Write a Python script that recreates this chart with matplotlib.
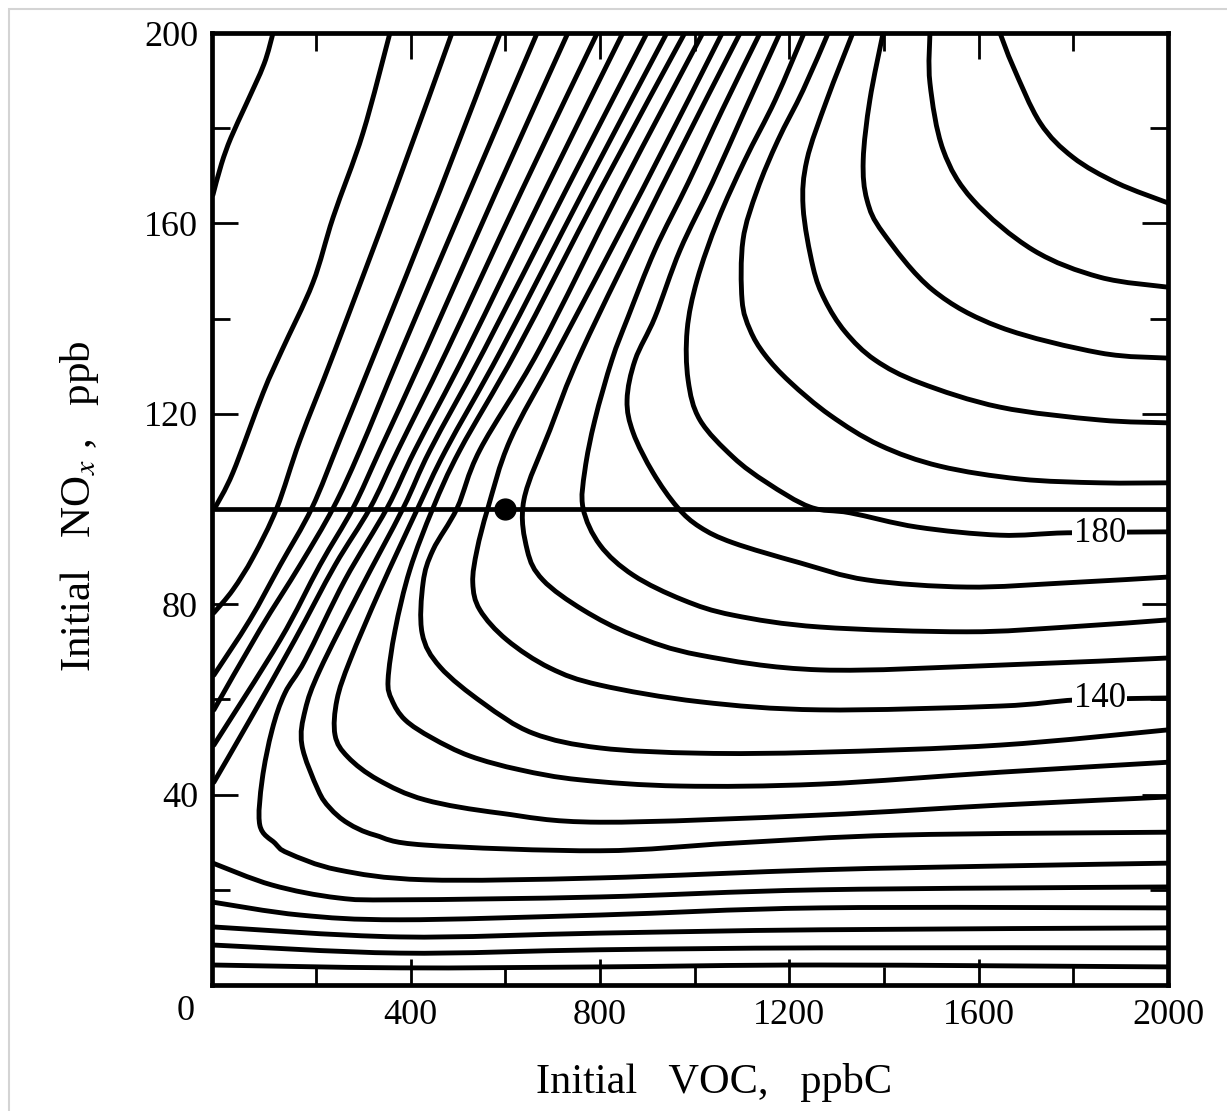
import matplotlib.pyplot as plt
from matplotlib.patches import Rectangle, PathPatch
from matplotlib.path import Path

plt.rcParams['font.family'] = ['Liberation Serif', 'DejaVu Serif']
plt.rcParams['mathtext.fontset'] = 'stix'

# ozone isopleths (ppb) as (VOC ppbC, NOx ppb)
iso_20 = [(109, 200), (90, 193.5), (52, 185), (20, 178), (0, 172.5), (-18, 166)]
iso_30 = [(356, 200), (299, 179), (236, 161.3), (193, 147.5), (128, 133.4),
          (88, 124.4), (24, 107.6), (-14, 100.2)]
iso_40 = [(487, 200), (367, 167), (240, 133.4), (166, 114.5), (117, 100.2),
          (67, 89.9), (24, 83), (-16, 78.2)]
iso_50 = [(589, 200), (462, 167), (327, 133.4), (250, 114.5), (191, 100.2),
          (124, 88.2), (60, 76.7), (-16, 65.1)]
iso_60 = [(667, 200), (525, 167), (381, 133.4), (293, 112.4), (236, 100.2),
          (166, 88.2), (81, 74.6), (-16, 57.8)]
iso_70 = [(732, 200), (582, 167), (432, 133.4), (335, 112.4), (278, 100.2),
          (208, 88.2), (124, 72.5), (-16, 50.4)]
iso_80 = [(794, 200), (635, 167), (477, 133.4), (373, 112.4), (314, 100.2),
          (240, 88.2), (155, 72.5), (60, 55.7), (-16, 42.6)]
iso_90 = [(848, 200), (684, 167), (519, 133.4), (409, 112.4), (350, 100.2),
          (261, 85.1), (177, 68.3), (134, 61.3), (107, 53.6), (86, 43.1),
          (81, 33.6), (113, 29.8), (141, 27.7), (246, 24.2), (430, 22.1),
          (800, 22.5), (1265, 24.2), (1645, 25), (2000, 25.6)]
iso_100 = [(899, 200), (728, 167), (555, 133.4), (441, 112.4), (384, 100.2),
           (293, 83), (208, 66.2), (177, 57.8), (170, 50.4), (204, 41),
           (229, 37.2), (267, 34), (324, 31.5), (430, 29.4), (800, 28.2),
           (1081, 29.8), (1434, 31.5), (2000, 32.1)]
iso_110 = [(941, 200), (766, 167), (591, 133.4), (474, 112.4), (415, 100.2),
           (335, 83), (272, 68.3), (244, 59.9), (240, 52.5), (267, 47.9),
           (331, 43.1), (430, 38.9), (589, 36.1), (800, 34.2), (1265, 35.7),
           (1645, 37.8), (2000, 39.5)]
iso_120 = [(979, 200), (800, 167), (624, 133.4), (504, 112.4), (447, 100.2),
           (398, 87.2), (367, 74.6), (352, 64.1), (360, 59.9), (388, 55.7),
           (445, 51.9), (525, 48.1), (631, 45.2), (758, 43.1), (969, 41.8),
           (1265, 42.2), (1645, 44.7), (2000, 46.8)]
iso_130 = [(1017, 200), (842, 167), (671, 133.4), (546, 112.4), (498, 100.2),
           (447, 91.4), (426, 84.5), (424, 73.9), (462, 66.8), (553, 59.2),
           (658, 52.9), (800, 49.8), (1011, 48.7), (1265, 48.9), (1645, 50.4),
           (2000, 53.6)]
iso_140 = [(1058, 200), (889, 167), (711, 133.4), (610, 114.5), (563, 100.2),
           (540, 91.4), (531, 84.5), (546, 78.8), (603, 72.5), (694, 66.6),
           (800, 63), (1011, 59.5), (1265, 57.8), (1645, 58.6), (1808, 59.9),
           (2000, 60.3)]
iso_150 = [(1096, 200), (927, 167), (762, 133.4), (694, 116.6), (639, 101.9),
           (646, 91.4), (679, 85.1), (764, 78.8), (870, 73.5), (1011, 69.3),
           (1265, 66.2), (1645, 67.2), (2000, 68.7)]
iso_160 = [(1138, 200), (1058, 183.8), (986, 168.5), (916, 154.4), (859, 140.3),
           (825, 131.3), (789, 118.7), (768, 108.2), (764, 100.2), (800, 92.4),
           (870, 86.1), (975, 80.9), (1081, 77.7), (1265, 75.2), (1575, 74.2),
           (1787, 75.2), (2000, 76.7)]
iso_170 = [(1180, 200), (1106, 183.8), (1037, 168.5), (969, 154.4), (916, 140.3),
           (874, 131.3), (857, 122.9), (870, 116), (912, 107.6), (963, 100.4),
           (1011, 96.2), (1081, 92.9), (1222, 88.7), (1364, 85.1), (1575, 83.6),
           (1787, 84.5), (2000, 85.7)]
iso_180 = [(1231, 200), (1170, 185.9), (1106, 173.3), (1049, 160.7), (1005, 148.1),
           (984, 137.6), (986, 127.1), (1011, 118.7), (1081, 110.9), (1153, 105.5),
           (1244, 100.4), (1328, 99.2), (1470, 96.2), (1645, 94.5), (1787, 95),
           (2000, 95.2)]
iso_190 = [(1282, 200), (1229, 188), (1176, 177.5), (1132, 167), (1102, 156.5),
           (1100, 143.9), (1117, 137.6), (1148, 132.4), (1201, 126.7), (1286, 119.7),
           (1391, 113.4), (1518, 109), (1687, 106.3), (1856, 105.5), (2000, 105.5)]
iso_200 = [(1334, 200), (1279, 185.9), (1237, 173.3), (1229, 163.4), (1250, 150.8),
           (1275, 143.9), (1318, 137.2), (1381, 131.3), (1476, 126.5), (1645, 121.4),
           (1856, 118.7), (2000, 118.1)]
iso_210 = [(1398, 200), (1370, 185.9), (1356, 173.3), (1364, 164.9), (1398, 158),
           (1503, 146), (1645, 138.2), (1856, 132.8), (2000, 131.7)]
iso_220 = [(1497, 200), (1497, 189.5), (1525, 175.4), (1588, 164.9), (1715, 154.4),
           (1856, 148.7), (2000, 146.6)]
iso_230 = [(1645, 200), (1673, 192.9), (1730, 181.1), (1799, 173.9), (1892, 168.5),
           (2000, 164.3)]

# lower branches of the 40-80 isopleths along the bottom
low_80 = [(-18, 25.6), (107, 21), (246, 18.3), (377, 17.9), (800, 18.5),
          (1265, 20), (2000, 20.6)]
low_70 = [(-18, 17.4), (166, 14.7), (377, 13.7), (800, 14.7), (1265, 16.2),
          (2000, 16.2)]
low_60 = [(-18, 12.2), (377, 10.1), (800, 10.9), (1265, 11.6), (2000, 12)]
low_50 = [(-18, 8.4), (377, 6.7), (800, 7.4), (1265, 7.8), (2000, 7.8)]
low_40 = [(-18, 4.2), (377, 3.6), (800, 3.8), (1265, 4.2), (2000, 3.8)]

# labelled isopleths: (text, VOC, NOx)
contour_labels = [('180', 1856, 94.8), ('140', 1856, 60.1)]

nox_line = 100          # ppb, horizontal reference line
base_case = (600, 100)  # marked point

x_major = [400, 800, 1200, 1600, 2000]
x_minor = [200, 600, 1000, 1400, 1800]
y_major = [40, 80, 120, 160, 200]
y_minor = [20, 60, 100, 140, 180]

curves = [iso_20, iso_30, iso_40, iso_50, iso_60, iso_70, iso_80, iso_90,
          iso_100, iso_110, iso_120, iso_130, iso_140, iso_150, iso_160,
          iso_170, iso_180, iso_190, iso_200, iso_210, iso_220, iso_230,
          low_80, low_70, low_60, low_50, low_40]


def smooth_path(pts):
    # cubic bezier through the traced points (catmull-rom tangents)
    verts = [pts[0]]
    codes = [Path.MOVETO]
    n = len(pts)
    for i in range(n - 1):
        p0 = pts[max(i - 1, 0)]
        p1 = pts[i]
        p2 = pts[i + 1]
        p3 = pts[min(i + 2, n - 1)]
        c1 = (p1[0] + (p2[0] - p0[0]) / 6, p1[1] + (p2[1] - p0[1]) / 6)
        c2 = (p2[0] - (p3[0] - p1[0]) / 6, p2[1] - (p3[1] - p1[1]) / 6)
        verts += [c1, c2, p2]
        codes += [Path.CURVE4] * 3
    return Path(verts, codes)


fig = plt.figure(figsize=(12.27, 11.11), dpi=100)
ax = fig.add_axes([212 / 1227, 1 - 985 / 1111, 956 / 1227, 952 / 1111])

for c in curves:
    ax.add_patch(PathPatch(smooth_path(c), fill=False, edgecolor='black',
                           lw=3.5, joinstyle='round', capstyle='round'))

ax.axhline(nox_line, color='black', lw=3.4)
ax.plot(*base_case, 'o', color='black', ms=15)

for txt, x, y in contour_labels:
    ax.text(x, y, txt, fontsize=25, ha='center', va='center', zorder=5,
            bbox=dict(facecolor='white', edgecolor='none', pad=1.0))

ax.set_xlim(-20, 2000)
ax.set_ylim(0, 200)
ax.set_xticks(x_major)
ax.set_xticks(x_minor, minor=True)
ax.set_yticks(y_major)
ax.set_yticks(y_minor, minor=True)
ax.tick_params(which='both', direction='in', top=True, right=True,
               width=2, labelsize=26)
ax.tick_params(which='major', length=19, pad=10)
ax.tick_params(which='minor', length=13)
for s in ax.spines.values():
    s.set_linewidth(3.4)

fig.text(186 / 1227, 1 - 1012 / 1111, '0', fontsize=26, ha='center', va='center')
fig.text(714 / 1227, 1 - 1082 / 1111, 'Initial   VOC,   ppbC', fontsize=30.5,
         ha='center', va='center')
fig.text(80 / 1227, 1 - 506 / 1111, r'Initial   NO$_{x}$ ,   ppb', fontsize=31,
         ha='center', va='center', rotation=90)

fig.patches.append(Rectangle((9 / 1227, -0.05), 1.1, 1.05 - 9 / 1111,
                             transform=fig.transFigure, fill=False,
                             edgecolor='#d4d4d4', lw=1.5))

fig.savefig('out.png', dpi=100)
